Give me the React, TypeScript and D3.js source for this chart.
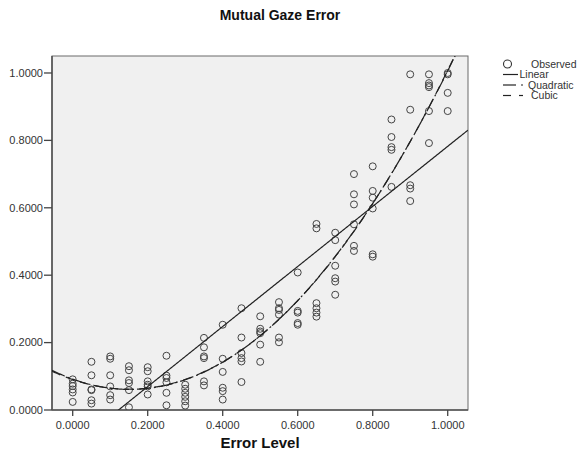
import React from "react";
import * as d3 from "d3";

const title = "Mutual Gaze Error";
const xTitle = "Error Level";
const errorLevels = [0, 0.05, 0.1, 0.15, 0.2, 0.25, 0.3, 0.35, 0.4, 0.45, 0.5, 0.55, 0.6, 0.65, 0.7, 0.75, 0.8, 0.85, 0.9, 0.95, 1.0];
const observed: number[][] = [
  [0.091, 0.078, 0.071, 0.061, 0.052, 0.024],
  [0.143, 0.103, 0.061, 0.059, 0.029, 0.019],
  [0.159, 0.152, 0.103, 0.070, 0.044, 0.031],
  [0.130, 0.118, 0.088, 0.080, 0.059, 0.008],
  [0.127, 0.115, 0.085, 0.075, 0.070, 0.046],
  [0.161, 0.102, 0.095, 0.082, 0.051, 0.014],
  [0.075, 0.063, 0.051, 0.039, 0.026, 0.013],
  [0.214, 0.186, 0.159, 0.154, 0.085, 0.073],
  [0.253, 0.152, 0.113, 0.066, 0.056, 0.031],
  [0.302, 0.215, 0.169, 0.154, 0.144, 0.083],
  [0.278, 0.241, 0.233, 0.228, 0.194, 0.143],
  [0.320, 0.302, 0.297, 0.283, 0.215, 0.201],
  [0.408, 0.294, 0.289, 0.258, 0.253],
  [0.552, 0.539, 0.317, 0.302, 0.289, 0.277],
  [0.526, 0.504, 0.428, 0.391, 0.381, 0.342],
  [0.700, 0.640, 0.610, 0.551, 0.487, 0.472],
  [0.723, 0.650, 0.630, 0.598, 0.462, 0.455],
  [0.862, 0.810, 0.780, 0.772, 0.662],
  [0.996, 0.891, 0.667, 0.657, 0.620],
  [0.996, 0.970, 0.963, 0.958, 0.887, 0.792],
  [1.000, 0.996, 0.941, 0.887],
];
const xTicks = [0, 0.2, 0.4, 0.6, 0.8, 1.0];
const yTicks = [0, 0.2, 0.4, 0.6, 0.8, 1.0];
const legendLabels = ["Observed", "Linear", "Quadratic", "Cubic"];

function polyFit(xs: number[], ys: number[], deg: number): number[] {
  const n = deg + 1;
  const A: number[][] = Array.from({ length: n }, () => new Array(n + 1).fill(0));
  for (let k = 0; k < xs.length; k++) {
    for (let i = 0; i < n; i++) {
      for (let j = 0; j < n; j++) A[i][j] += Math.pow(xs[k], i + j);
      A[i][n] += ys[k] * Math.pow(xs[k], i);
    }
  }
  for (let c = 0; c < n; c++) {
    let p = c;
    for (let r = c + 1; r < n; r++) if (Math.abs(A[r][c]) > Math.abs(A[p][c])) p = r;
    [A[c], A[p]] = [A[p], A[c]];
    for (let r = 0; r < n; r++) {
      if (r === c) continue;
      const f = A[r][c] / A[c][c];
      for (let j = c; j <= n; j++) A[r][j] -= f * A[c][j];
    }
  }
  return A.map((row, i) => row[n] / A[i][i]);
}

export default function App() {
  const W = 581, H = 452;
  const L = 52, R = 468, T = 56, B = 410;
  const x = d3.scaleLinear().domain([-0.0552, 1.0541]).range([L, R]);
  const y = d3.scaleLinear().domain([0, 1.0504]).range([B, T]);

  const pts: { x: number; y: number }[] = [];
  errorLevels.forEach((lv, i) => observed[i].forEach((v) => pts.push({ x: lv, y: v })));
  const xs = pts.map((p) => p.x);
  const ys = pts.map((p) => p.y);
  const fits = [1, 2, 3].map((d) => polyFit(xs, ys, d));
  const samples = d3.range(0, 401).map((i) => -0.0552 + (i / 400) * (1.0541 + 0.0552));
  const line = d3.line<number[]>().x((d) => x(d[0])).y((d) => y(d[1]));
  const curvePath = (c: number[]) =>
    line(samples.map((s) => [s, c.reduce((acc, ci, k) => acc + ci * Math.pow(s, k), 0)])) || "";
  const dashes = ["none", "14,3,2,3", "9,6"];

  const font = "Arial, 'Liberation Sans', sans-serif";
  const lx = 503;
  const rows = [64, 74.5, 85, 95.5];

  return (
    <svg width={W} height={H} style={{ position: "absolute", left: 0, top: 0 }} fontFamily={font}>
      <rect x={0} y={0} width={W} height={H} fill="#fff" />
      <text x={280} y={20} textAnchor="middle" fontSize={14} fontWeight="bold" fill="#111">{title}</text>
      <defs>
        <clipPath id="plotClip"><rect x={L} y={T} width={R - L} height={B - T} /></clipPath>
      </defs>
      <rect x={L} y={T} width={R - L} height={B - T} fill="#f0f0f0" stroke="#6a6a6a" strokeWidth={1} />
      <line x1={L} x2={L} y1={T} y2={B} stroke="#555" strokeWidth={1.6} />
      <line x1={L} x2={R} y1={B} y2={B} stroke="#555" strokeWidth={1.6} />
      {yTicks.map((t) => (
        <g key={"y" + t}>
          <line x1={L - 8} x2={L} y1={y(t)} y2={y(t)} stroke="#444" strokeWidth={1.3} />
          <text x={L - 9} y={y(t)} dy="0.35em" textAnchor="end" fontSize={11} fill="#333">{t.toFixed(4)}</text>
        </g>
      ))}
      {xTicks.map((t) => (
        <g key={"x" + t}>
          <line x1={x(t)} x2={x(t)} y1={B} y2={B + 6} stroke="#444" strokeWidth={1.3} />
          <text x={x(t)} y={429} textAnchor="middle" fontSize={11} fill="#333">{t.toFixed(4)}</text>
        </g>
      ))}
      <text x={(L + R) / 2} y={448} textAnchor="middle" fontSize={15} fontWeight="bold" fill="#111">{xTitle}</text>
      <g clipPath="url(#plotClip)">
        {pts.map((p, i) => (
          <circle key={i} cx={x(p.x)} cy={y(p.y)} r={3.5} fill="none" stroke="#444" strokeWidth={1} />
        ))}
        {fits.map((c, i) => (
          <path key={i} d={curvePath(c)} fill="none" stroke="#222" strokeWidth={1.2} strokeDasharray={dashes[i]} />
        ))}
      </g>
      <g fontSize={10.5} fill="#333">
        <circle cx={507.5} cy={rows[0]} r={4} fill="none" stroke="#333" strokeWidth={1.1} />
        <text x={531} y={rows[0]} dy="0.35em">{legendLabels[0]}</text>
        <line x1={lx} x2={518} y1={rows[1]} y2={rows[1]} stroke="#222" strokeWidth={1.2} />
        <text x={519.5} y={rows[1]} dy="0.35em">{legendLabels[1]}</text>
        <line x1={lx} x2={516} y1={rows[2]} y2={rows[2]} stroke="#222" strokeWidth={1.2} />
        <line x1={521} x2={523} y1={rows[2]} y2={rows[2]} stroke="#222" strokeWidth={1.2} />
        <text x={528} y={rows[2]} dy="0.35em">{legendLabels[2]}</text>
        <line x1={lx} x2={511} y1={rows[3]} y2={rows[3]} stroke="#222" strokeWidth={1.2} />
        <line x1={519} x2={523} y1={rows[3]} y2={rows[3]} stroke="#222" strokeWidth={1.2} />
        <text x={531} y={rows[3]} dy="0.35em">{legendLabels[3]}</text>
      </g>
    </svg>
  );
}
